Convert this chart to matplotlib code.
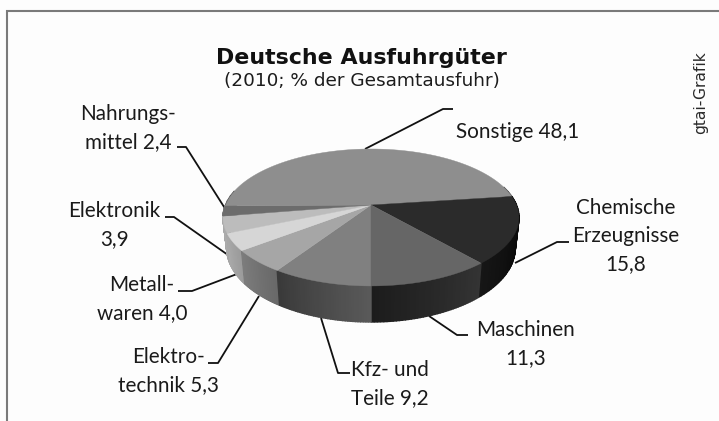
import numpy as np
import matplotlib
matplotlib.use("Agg")
import matplotlib.pyplot as plt
from matplotlib.patches import Polygon

# --- data (clockwise from the front of the pie) ---
categories = ["Kfz und Teile", "Elektrotechnik", "Metallwaren", "Elektronik",
              "Nahrungsmittel", "Sonstige", "Chemische Erzeugnisse", "Maschinen"]
values = [9.2, 5.3, 4.0, 3.9, 2.4, 48.1, 15.8, 11.3]
labels = ["Kfz- und\nTeile 9,2", "Elektro-\ntechnik 5,3", "Metall-\nwaren 4,0", "Elektronik\n3,9",
          "Nahrungs-\nmittel 2,4", "Sonstige 48,1", "Chemische\nErzeugnisse\n15,8", "Maschinen\n11,3"]

# --- styles / layout (pixel coordinates) ---
top_colors = ["#808080", "#a6a6a6", "#d6d6d6", "#bcbcbc", "#6c6c6c", "#8e8e8e", "#2b2b2b", "#666666"]
side_left = ["#3a3a3a", "#7c7c7c", "#a8a8a8", "#ababab", "#7a7a7a", "#333333", "#161616", "#1c1c1c"]
side_right = ["#5a5a5a", "#686868", "#9a9a9a", "#a0a0a0", "#707070", "#333333", "#000000", "#343434"]
label_xy = [(390, 384), (168, 371), (142, 299), (114, 225), (128, 128), (518, 132), (626, 236), (526, 344)]
leaders = [
    [(321, 318), (338, 373), (350, 373)],
    [(259, 296), (218, 363), (208, 363)],
    [(237, 274), (192, 291), (178, 291)],
    [(228, 255), (174, 217), (165, 217)],
    [(226, 210), (186, 147), (177, 147)],
    [(365, 149), (443, 109), (453, 109)],
    [(515, 263), (557, 242), (569, 242)],
    [(429, 316), (457, 335), (468, 335)],
]
cx, cy, a, b, k = 371.0, 205.0, 145.5, 66.2, -0.182
depth, shrink = 29.5, 0.975


def rim(theta):
    """Project a circle angle (0 = front, growing clockwise on screen) to pixels."""
    u, v = -np.sin(theta), np.cos(theta)
    den = 1 + k * v
    return cx + a * u / den, cy + b * v / den


def base(theta):
    x, y = rim(theta)
    v = np.cos(theta)
    return cx + (x - cx) * shrink, y + depth / (1 + k * v)


def mix(c1, c2, t):
    c1 = np.array(matplotlib.colors.to_rgb(c1))
    c2 = np.array(matplotlib.colors.to_rgb(c2))
    return c1 * (1 - t) + c2 * t


fig = plt.figure(figsize=(7.19, 4.21), dpi=100, facecolor="#fdfdfd")
ax = fig.add_axes([0, 0, 1, 1])
ax.set_xlim(0, 719)
ax.set_ylim(421, 0)
ax.axis("off")

# frame, cut off at right and bottom
ax.plot([7, 7, 719], [421, 11, 11], color="#7a7a7a", lw=1.5, solid_joinstyle="miter")

edges = np.concatenate([[0], np.cumsum(values)]) / sum(values) * 2 * np.pi

# side wall: drawn from the back to the front
order = [5, 6, 4, 3, 2, 7, 1, 0]
for i in order:
    steps = np.linspace(edges[i], edges[i + 1], 40)
    for j in range(len(steps) - 1):
        s0, s1 = steps[j], steps[j + 1]
        if np.cos((s0 + s1) / 2) < -0.25:
            continue
        x0, y0 = rim(s0)
        x1, y1 = rim(s1)
        x2, y2 = base(s1)
        x3, y3 = base(s0)
        col = mix(side_right[i], side_left[i], (j + 0.5) / (len(steps) - 1))
        ax.add_patch(Polygon([(x0, y0), (x1, y1), (x2, y2), (x3, y3)], closed=True,
                             facecolor=col, edgecolor=col, lw=1.0, zorder=2))

# top face
for i in range(len(values)):
    th = np.linspace(edges[i], edges[i + 1], 120)
    xs, ys = rim(th)
    pts = [(cx, cy)] + list(zip(xs, ys))
    ax.add_patch(Polygon(pts, closed=True, facecolor=top_colors[i], edgecolor=top_colors[i],
                         lw=0.3, zorder=3))

# leader lines
for pts in leaders:
    ax.plot([p[0] for p in pts], [p[1] for p in pts], color="#111111", lw=1.3, zorder=1,
            solid_joinstyle="round", solid_capstyle="butt")

# labels
for txt, (x, y) in zip(labels, label_xy):
    ax.text(x, y, txt, ha="center", va="center", family="Lato", fontsize=14.9,
            color="#1a1a1a", linespacing=1.52, multialignment="center")

ax.text(361, 58, "Deutsche Ausfuhrgüter", ha="center", va="center", family="DejaVu Sans",
        fontweight="bold", fontsize=15.9, color="#111111")
ax.text(362, 81, "(2010; % der Gesamtausfuhr)", ha="center", va="center", family="DejaVu Sans",
        fontsize=13.3, color="#1c1c1c")
ax.text(701, 93, "gtai-Grafik", rotation=90, ha="center", va="center", family="DejaVu Sans",
        fontsize=11.2, color="#2a2a2a")

fig.savefig("out.png", dpi=100, facecolor=fig.get_facecolor())
